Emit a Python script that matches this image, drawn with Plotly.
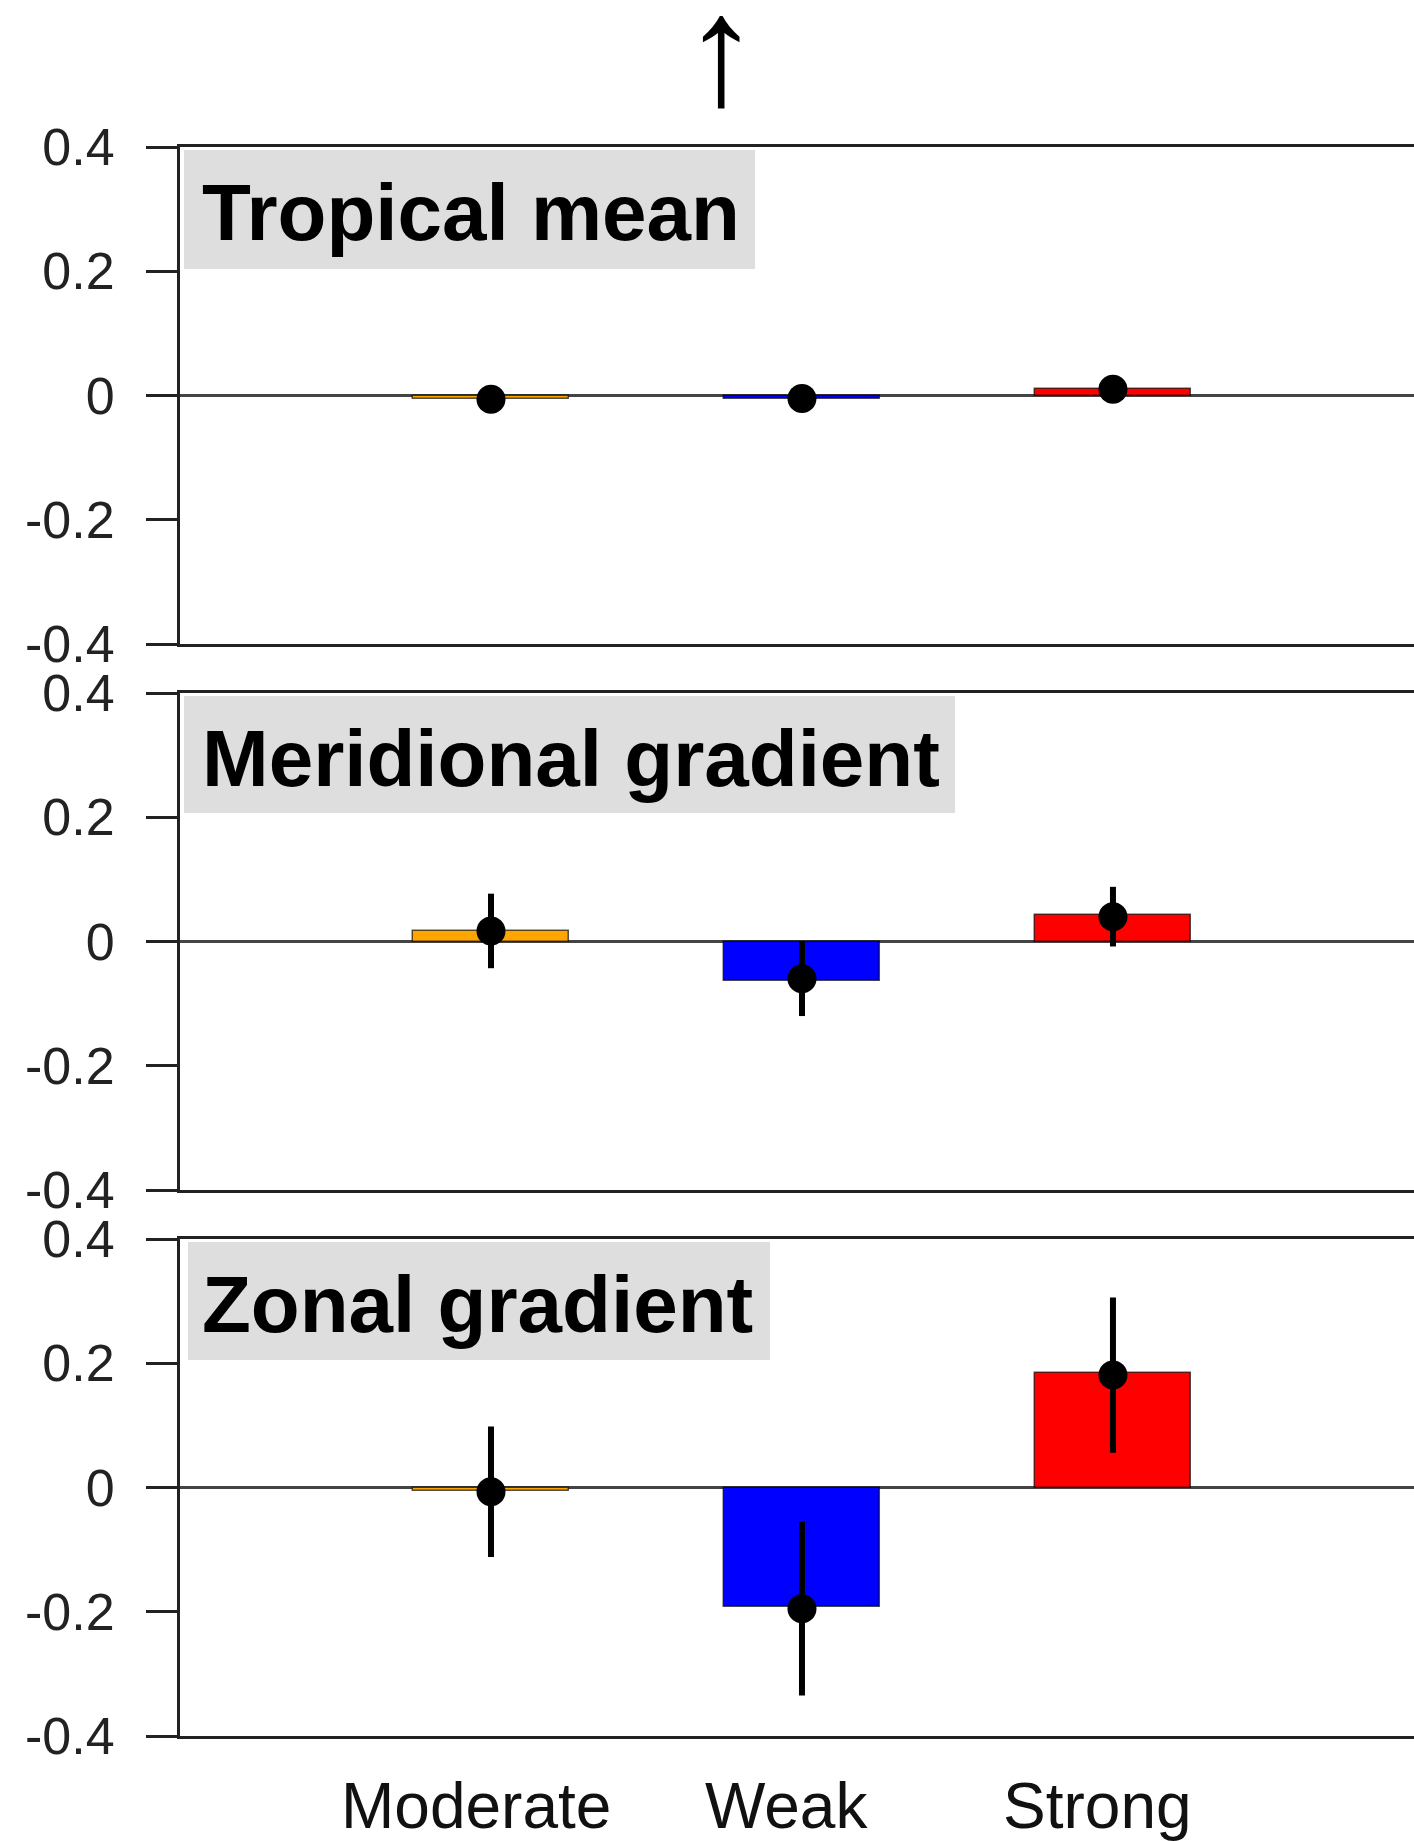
import plotly.graph_objects as go

# ---------------- data ----------------
categories = ["Moderate", "Weak", "Strong"]
panel_titles = ["Tropical mean", "Meridional gradient", "Zonal gradient"]
bar_colors = ["#FFA500", "#0000FF", "#FF0000"]

tropical_bar = [-0.006, -0.005, 0.011]
tropical_pt = [-0.006, -0.005, 0.010]
tropical_err = [0.008, 0.008, 0.008]

meridional_bar = [0.017, -0.064, 0.042]
meridional_pt = [0.017, -0.060, 0.040]
meridional_err = [0.060, 0.060, 0.048]

zonal_bar = [-0.006, -0.193, 0.185]
zonal_pt = [-0.007, -0.195, 0.181]
zonal_err = [0.105, 0.140, 0.125]

y_tickvals = [-0.4, -0.2, 0, 0.2, 0.4]
y_ticktext = ["-0.4", "-0.2", "0", "0.2", "0.4"]

panels = [
    (tropical_bar, tropical_pt, tropical_err),
    (meridional_bar, meridional_pt, meridional_err),
    (zonal_bar, zonal_pt, zonal_err),
]

# ---------------- layout geometry (pixels) ----------------
W, H = 1414, 1841
ML, MR, MT, MB = 180, 0, 147, 105
PW = W - ML - MR
PH = H - MT - MB
panel_px = [(147, 644), (693, 1190), (1239, 1736)]  # top, bottom
title_boxes = [(184, 755, 150, 269), (184, 955, 696, 813), (188, 770, 1242, 1360)]


def fy(py):
    return (H - MB - py) / PH


def fx(px):
    return (px - ML) / PW


FONT = "Liberation Sans, Arial, Helvetica, sans-serif"

fig = go.Figure()

for i, (bars, pts, errs) in enumerate(panels):
    ax = "" if i == 0 else str(i + 1)
    fig.add_trace(go.Bar(
        x=categories, y=bars, width=0.5,
        marker=dict(color=bar_colors, line=dict(color="rgba(0,0,0,0.65)", width=1.5)),
        xaxis="x" + ax, yaxis="y" + ax, showlegend=False,
    ))
    fig.add_trace(go.Scatter(
        x=categories, y=pts, mode="markers",
        marker=dict(color="black", size=29),
        error_y=dict(type="data", array=errs, visible=True, color="black",
                     thickness=6, width=0),
        xaxis="x" + ax, yaxis="y" + ax, showlegend=False,
    ))

layout = dict(
    width=W, height=H,
    margin=dict(l=ML, r=MR, t=MT, b=MB),
    paper_bgcolor="white", plot_bgcolor="white",
    font=dict(family=FONT, color="#111"),
    bargap=0,
    showlegend=False,
)

for i in range(3):
    ax = "" if i == 0 else str(i + 1)
    top, bot = panel_px[i]
    layout["xaxis" + ax] = dict(
        domain=[0, 1], anchor="y" + ax,
        type="category", range=[-1.0, 2.968],
        showline=True, mirror=True, linecolor="#222", linewidth=3,
        showticklabels=False, ticks="", showgrid=False, zeroline=False,
    )
    layout["yaxis" + ax] = dict(
        domain=[fy(bot), fy(top)], anchor="x" + ax,
        range=[-0.4, 0.4], tickvals=y_tickvals, ticktext=y_ticktext,
        ticks="outside", ticklen=31, tickwidth=3, tickcolor="#222",
        ticklabelstandoff=21, automargin=False,
        tickfont=dict(size=52, color="#222", family=FONT),
        showline=True, linecolor="#222", linewidth=3, mirror=False,
        showgrid=False, zeroline=True, zerolinecolor="#444", zerolinewidth=3,
    )

fig.update_layout(**layout)

shapes = []
annotations = []
for i, title in enumerate(panel_titles):
    x0, x1, y0, y1 = title_boxes[i]
    shapes.append(dict(type="rect", xref="paper", yref="paper",
                       x0=fx(x0), x1=fx(x1), y0=fy(y1), y1=fy(y0),
                       fillcolor="#dedede", line=dict(width=0), layer="below"))
    ax = "" if i == 0 else str(i + 1)
    annotations.append(dict(
        text=title, xref="paper", x=0, xanchor="left", xshift=20,
        yref="y" + ax + " domain", y=1, yanchor="middle", yshift=-65,
        showarrow=False,
        font=dict(size=80, color="black", family=FONT, weight="bold"),
    ))

for c in categories:
    annotations.append(dict(
        text=c, xref="x3", x=c, xanchor="center", xshift=-15,
        yref="paper", y=0, yanchor="middle", yshift=-70,
        showarrow=False, font=dict(size=64, color="#111", family=FONT),
    ))

annotations.append(dict(
    text="↑", xref="paper", x=fx(721), xanchor="center",
    yref="paper", y=fy(50), yanchor="middle",
    showarrow=False, font=dict(size=156, color="black", family=FONT, weight=300),
))

fig.update_layout(shapes=shapes, annotations=annotations)

fig.write_html("out.html", config={"displayModeBar": False},
               post_script="document.body.style.margin='0';document.body.style.padding='0';")
